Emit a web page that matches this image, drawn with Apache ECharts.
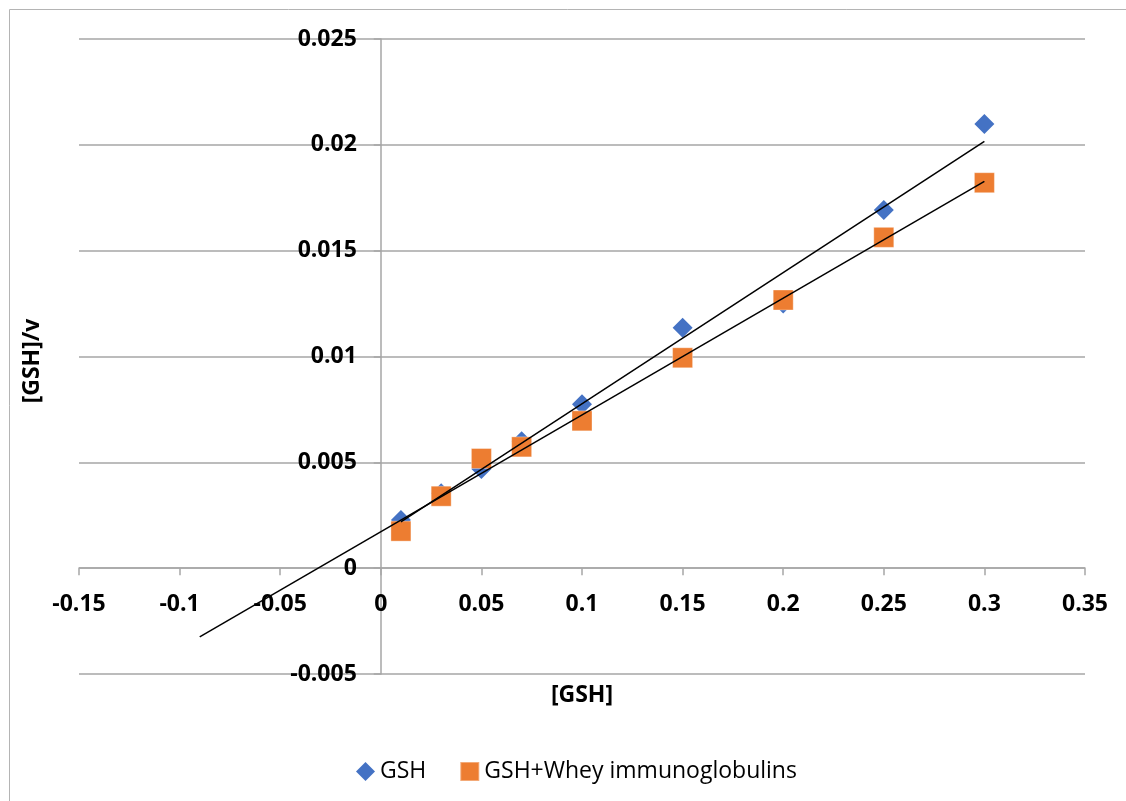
<!DOCTYPE html>
<html>
<head>
<meta charset="utf-8">
<script src="https://cdn.jsdelivr.net/npm/echarts@6/dist/echarts.min.js"></script>
<style>
  html, body { margin: 0; padding: 0; background: #fff; }
  #chart { width: 1126px; height: 801px; }
</style>
</head>
<body>
<div id="chart"></div>
<script>
// [GSH] values
const gshConc = [0.01, 0.03, 0.05, 0.07, 0.1, 0.15, 0.2, 0.25, 0.3];
// [GSH]/v for GSH alone
const gshRate = [0.00227, 0.00354, 0.00468, 0.0060, 0.00774, 0.01136, 0.0125, 0.01692, 0.02098];
// [GSH]/v for GSH + whey immunoglobulins
const wheyRate = [0.00175, 0.0034, 0.00518, 0.00573, 0.00696, 0.00994, 0.01267, 0.01563, 0.01821];

const seriesNames = ['GSH', 'GSH+Whey immunoglobulins'];
// backward forecast of the whey trend line (Excel style)
const wheyBackward = 0.1;

const FONT = '"Open Sans", sans-serif';
const GRID = { left: 79, right: 41, top: 39, bottom: 127 };

// least squares line, like an Excel linear trendline
function linFit(xs, ys) {
  const n = xs.length;
  let sx = 0, sy = 0, sxx = 0, sxy = 0;
  for (let i = 0; i < n; i++) {
    sx += xs[i]; sy += ys[i];
    sxx += xs[i] * xs[i]; sxy += xs[i] * ys[i];
  }
  const slope = (n * sxy - sx * sy) / (n * sxx - sx * sx);
  const icpt = (sy - slope * sx) / n;
  return { slope, icpt };
}

function trend(xs, ys, back) {
  const f = linFit(xs, ys);
  const x0 = Math.min(...xs) - back;
  const x1 = Math.max(...xs);
  return [[x0, f.icpt + f.slope * x0], [x1, f.icpt + f.slope * x1]];
}

const chart = echarts.init(document.getElementById('chart'));

const axisGray = { color: '#a6a6a6', width: 1.5 };
const tickFont = { color: '#000', fontFamily: FONT, fontWeight: 'bold', fontSize: 23 };

const option = {
  animation: false,
  backgroundColor: '#fff',
  grid: Object.assign({ containLabel: false, outerBoundsMode: 'none' }, GRID),
  legend: {
    data: [
      { name: seriesNames[0], icon: 'diamond' },
      { name: seriesNames[1], icon: 'rect' }
    ],
    left: 351,
    top: 755,
    itemWidth: 19,
    itemHeight: 19,
    itemGap: 33,
    textStyle: { fontFamily: FONT, fontSize: 23, color: '#000' }
  },
  xAxis: {
    type: 'value',
    min: -0.15,
    max: 0.35,
    interval: 0.05,
    axisLine: { onZero: false, lineStyle: axisGray },
    axisTick: { show: true, length: 7, lineStyle: axisGray },
    axisLabel: Object.assign({ margin: 25 }, tickFont),
    splitLine: { show: false }
  },
  yAxis: {
    type: 'value',
    min: -0.005,
    max: 0.025,
    interval: 0.005,
    axisLine: { show: true, onZero: false, lineStyle: axisGray },
    axisTick: { show: true, length: 7, lineStyle: axisGray },
    axisLabel: Object.assign({ margin: 24 }, tickFont),
    splitLine: { show: true, lineStyle: axisGray }
  },
  graphic: [
    { type: 'line', shape: { x1: 9.5, y1: 9.5, x2: 1126, y2: 9.5 }, style: { stroke: '#b4b4b4', lineWidth: 1 } },
    { type: 'line', shape: { x1: 9.5, y1: 9.5, x2: 9.5, y2: 801 }, style: { stroke: '#b4b4b4', lineWidth: 1 } },
    {
      type: 'text', x: 582, y: 695,
      style: { text: '[GSH]', font: 'bold 23px ' + FONT, fill: '#000', align: 'center', verticalAlign: 'middle' }
    },
    {
      type: 'text', x: 32, y: 361, rotation: Math.PI / 2,
      style: { text: '[GSH]/v', font: 'bold 23px ' + FONT, fill: '#000', align: 'center', verticalAlign: 'middle' }
    }
  ],
  series: [
    {
      name: seriesNames[0],
      type: 'scatter',
      symbol: 'diamond',
      symbolSize: 20,
      itemStyle: { color: '#4472c4', opacity: 1 },
      data: gshConc.map((x, i) => [x, gshRate[i]]),
      z: 2
    },
    {
      name: seriesNames[1],
      type: 'scatter',
      symbol: 'rect',
      symbolSize: 20,
      itemStyle: { color: '#ed7d31', opacity: 1, borderColor: 'rgba(255,255,255,0.35)', borderWidth: 1 },
      data: gshConc.map((x, i) => [x, wheyRate[i]]),
      z: 3
    },
    {
      name: 'GSH trend',
      type: 'line',
      data: trend(gshConc, gshRate, 0),
      symbol: 'none',
      lineStyle: { color: '#000', width: 1.5 },
      silent: true,
      z: 5
    },
    {
      name: 'Whey trend',
      type: 'line',
      data: trend(gshConc, wheyRate, wheyBackward),
      symbol: 'none',
      lineStyle: { color: '#000', width: 1.5 },
      silent: true,
      z: 5
    }
  ]
};

chart.setOption(option);

// put both axes (line, ticks, labels) through the origin, like the Excel chart
const x0px = chart.convertToPixel({ xAxisIndex: 0 }, 0);
const y0px = chart.convertToPixel({ yAxisIndex: 0 }, 0);
chart.setOption({
  xAxis: { offset: -((801 - GRID.bottom) - y0px) },
  yAxis: { offset: -(x0px - GRID.left) }
});
</script>
</body>
</html>
